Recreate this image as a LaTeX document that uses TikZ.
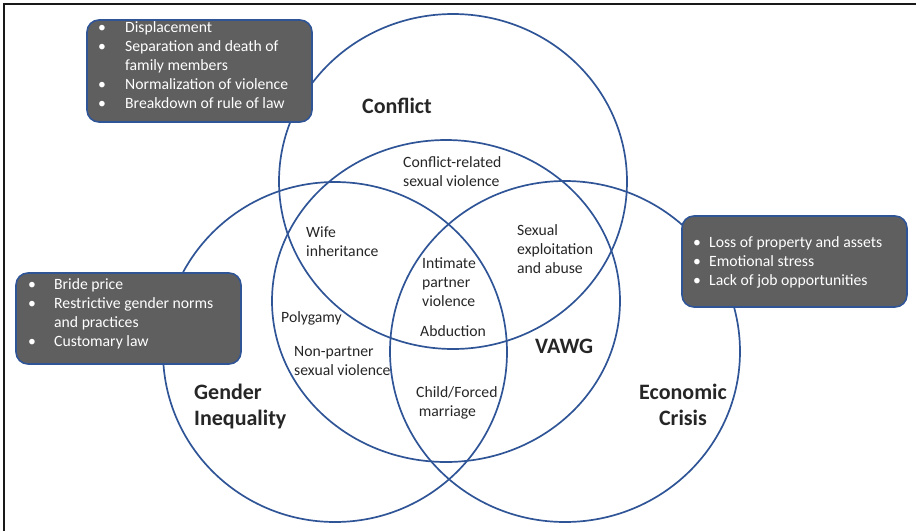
\documentclass[tikz,border=0pt]{standalone}
\usepackage{fontspec}
\setmainfont{Carlito}
\definecolor{ringblue}{HTML}{2F5597}
\definecolor{boxgray}{HTML}{5F5F5F}
\definecolor{labelink}{HTML}{262626}
\tikzset{
  ring/.style={draw=ringblue, line width=1.7pt},
  factorbox/.style={draw=ringblue, line width=1.6pt, fill=boxgray,
    rounded corners=12pt, inner sep=0pt, outer sep=0pt},
  boxtext/.style={text=white, font=\fontsize{15.7}{19}\selectfont,
    inner sep=0pt, anchor=base west},
  zonetext/.style={text=labelink, font=\fontsize{15.7}{19}\selectfont,
    inner sep=0pt, anchor=base west},
  settitle/.style={text=labelink, font=\fontsize{22}{26.5}\selectfont\bfseries,
    inner sep=0pt, anchor=base west},
  frameline/.style={draw=black!90, line width=1.3pt}
}
\begin{document}
\begin{tikzpicture}[x=1pt,y=-1pt]
\useasboundingbox (0,0) rectangle (916,531);

% frame edges
\coordinate (frameTR) at (916,4);
\coordinate (frameTL) at (4,4);
\coordinate (frameBL) at (4,531);
\draw[frameline] (frameTR) -- (frameTL) -- (frameBL);

% the four overlapping sets
\draw[ring] (453,181.5) ellipse [x radius=174pt, y radius=167.5pt];
\draw[ring] (446,301) ellipse [x radius=174pt, y radius=161pt];
\draw[ring] (335,352) ellipse [x radius=172pt, y radius=170pt];
\draw[ring] (565,351.5) ellipse [x radius=175pt, y radius=170.5pt];

% set titles
\node[settitle] (tConflict) at (362,113) {Conflict};
\node[settitle] (tVAWG) at (535,353) {VAWG};
\node[settitle] (tGender) at (194,399) {\begin{tabular}[t]{@{}l@{}}Gender\\Inequality\end{tabular}};
\node[settitle, anchor=base] (tEconomic) at (683,399) {\begin{tabular}[t]{@{}c@{}}Economic\\Crisis\end{tabular}};

% forms of violence in the overlaps
\node[zonetext] (zCRSV) at (403,167) {\begin{tabular}[t]{@{}l@{}}Conflict-related\\sexual violence\end{tabular}};
\node[zonetext] (zWife) at (306,237) {\begin{tabular}[t]{@{}l@{}}Wife\\inheritance\end{tabular}};
\node[zonetext] (zSEA) at (517,235) {\begin{tabular}[t]{@{}l@{}}Sexual\\exploitation\\and abuse\end{tabular}};
\node[zonetext] (zIPV) at (422,268) {\begin{tabular}[t]{@{}l@{}}Intimate\\partner\\violence\end{tabular}};
\node[zonetext] (zAbduction) at (420,336) {Abduction};
\node[zonetext] (zPolygamy) at (281,322) {Polygamy};
\node[zonetext] (zNPSV) at (294,356) {\begin{tabular}[t]{@{}l@{}}Non-partner\\sexual violence\end{tabular}};
\node[zonetext] (zChild) at (416,397) {\begin{tabular}[t]{@{}l@{}}Child/Forced\\\,marriage\end{tabular}};

% driver boxes
\node[factorbox, minimum width=225pt, minimum height=102pt] (conflictBox) at (199.5,71) {};
\node[factorbox, minimum width=225pt, minimum height=91pt] (genderBox) at (128.5,318.5) {};
\node[factorbox, minimum width=225pt, minimum height=91pt] (economicBox) at (794.5,261.5) {};

\node[boxtext] (conflictList) at (98,32) {\begin{tabular}[t]{@{}p{27pt}@{}l@{}}
•& Displacement\\
•& Separation and death of\\
 & family members\\
•& Normalization of violence\\
•& Breakdown of rule of law
\end{tabular}};
\node[boxtext] (genderList) at (28,289) {\begin{tabular}[t]{@{}p{26pt}@{}l@{}}
•& Bride price\\
•& Restrictive gender norms\\
 & and practices\\
•& Customary law
\end{tabular}};
\node[boxtext] (economicList) at (693,247) {\begin{tabular}[t]{@{}p{16pt}@{}l@{}}
•& Loss of property and assets\\
•& Emotional stress\\
•& Lack of job opportunities
\end{tabular}};
\end{tikzpicture}
\end{document}
